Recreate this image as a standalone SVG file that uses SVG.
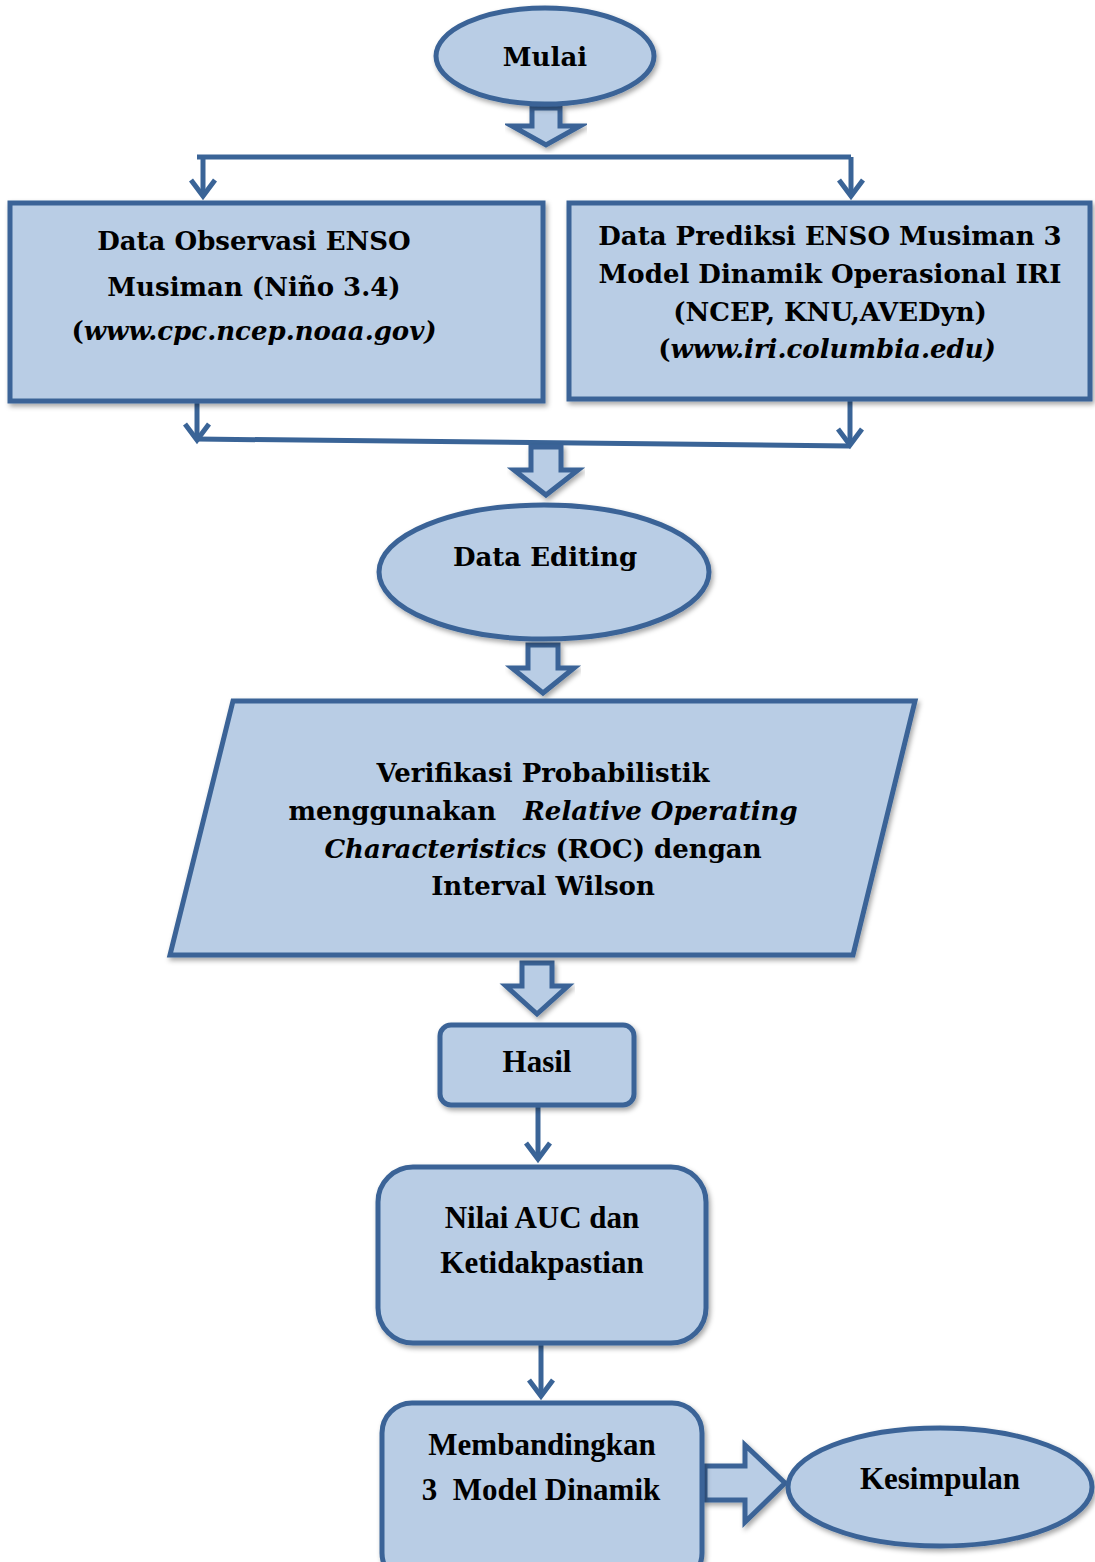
<svg xmlns="http://www.w3.org/2000/svg" width="1095" height="1562" viewBox="0 0 1095 1562">
<defs>
<filter id="sh" x="-10%" y="-10%" width="120%" height="130%">
<feDropShadow dx="2" dy="3" stdDeviation="2.5" flood-color="#000" flood-opacity="0.35"/>
</filter>
</defs>
<style>
.s{fill:#B9CDE5;stroke:#3A6497;stroke-width:5;filter:url(#sh)}
.ln{fill:none;stroke:#3A6497;stroke-width:5;stroke-linejoin:miter}
.ba{fill:#B9CDE5;stroke:#3A6497;stroke-width:5;stroke-linejoin:miter;filter:url(#sh)}
.c{font-family:"DejaVu Serif","Liberation Serif",serif;font-weight:bold;font-size:26px;fill:#000;text-anchor:middle}
.t{font-family:"Liberation Serif","Times New Roman",serif;font-weight:bold;font-size:31px;fill:#000;text-anchor:middle}
.i{font-style:italic}
</style>

<g id="connectors">
<polygon class="ba" points="532,108 560,108 560,126 580,126 546,145 512,126 532,126"/>
<polyline class="ln" points="197,157 851,157"/>
<polyline class="ln" points="203,157 203,195"/>
<polyline class="ln" points="191,180 203,196 215,180"/>
<polyline class="ln" points="851,157 851,195"/>
<polyline class="ln" points="839,180 851,196 863,180"/>
<polyline class="ln" points="197,402 197,439"/>
<polyline class="ln" points="185,424 197,440 209,424"/>
<polyline class="ln" points="850,400 850,445"/>
<polyline class="ln" points="838,429 850,445 862,429"/>
<polyline class="ln" points="197,439 850,446"/>
<polygon class="ba" points="531,447 561,447 561,470 578,470 546,495 514,470 531,470"/>
<polygon class="ba" points="528,645 558,645 558,668 574,668 543,693 512,668 528,668"/>
<polygon class="ba" points="522,963 552,963 552,986 568,986 537,1014 506,986 522,986"/>
<polyline class="ln" points="538,1107 538,1158"/>
<polyline class="ln" points="526,1143 538,1159 550,1143"/>
<polyline class="ln" points="541,1345 541,1395"/>
<polyline class="ln" points="529,1380 541,1396 553,1380"/>
<polygon class="ba" points="705,1466 745,1466 745,1445 785,1483 745,1522 745,1500 705,1500"/>
</g>

<g id="mulai">
<ellipse class="s" cx="545" cy="56" rx="109" ry="48"/>
<text class="c" x="545" y="66">Mulai</text>
</g>

<g id="observasi">
<rect class="s" x="10" y="203" width="533" height="198"/>
<text class="c" x="254" y="250">Data Observasi ENSO</text>
<text class="c" x="254" y="296">Musiman (Niño 3.4)</text>
<text class="c" x="254" y="340">(<tspan class="i">www.cpc.ncep.noaa.gov)</tspan></text>
</g>

<g id="prediksi">
<rect class="s" x="569" y="203" width="521" height="196"/>
<text class="c" x="830" y="245">Data Prediksi ENSO Musiman 3</text>
<text class="c" x="830" y="283">Model Dinamik Operasional IRI</text>
<text class="c" x="830" y="321">(NCEP, KNU,AVEDyn)</text>
<text class="c" x="827" y="358">(<tspan class="i">www.iri.columbia.edu)</tspan></text>
</g>

<g id="editing">
<ellipse class="s" cx="544" cy="572" rx="165" ry="67"/>
<text class="c" x="545" y="566">Data Editing</text>
</g>

<g id="verifikasi">
<polygon class="s" points="233,701 915,701 853,955 170,955"/>
<text class="c" x="543" y="782">Verifikasi Probabilistik</text>
<text class="c" x="543" y="820" xml:space="preserve">menggunakan   <tspan class="i">Relative Operating</tspan></text>
<text class="c" x="543" y="858"><tspan class="i">Characteristics</tspan> (ROC) dengan</text>
<text class="c" x="543" y="895">Interval Wilson</text>
</g>

<g id="hasil">
<rect class="s" x="440" y="1025" width="194" height="80" rx="11"/>
<text class="t" x="537" y="1072">Hasil</text>
</g>

<g id="nilai">
<rect class="s" x="378" y="1167" width="328" height="176" rx="35"/>
<text class="t" x="542" y="1228">Nilai AUC dan</text>
<text class="t" x="542" y="1273">Ketidakpastian</text>
</g>

<g id="membandingkan">
<rect class="s" x="382" y="1403" width="320" height="180" rx="30"/>
<text class="t" x="542" y="1455">Membandingkan</text>
<text class="t" x="541" y="1500" xml:space="preserve">3  Model Dinamik</text>
</g>

<g id="kesimpulan">
<ellipse class="s" cx="940" cy="1487" rx="152" ry="59"/>
<text class="t" x="940" y="1489">Kesimpulan</text>
</g>
</svg>
